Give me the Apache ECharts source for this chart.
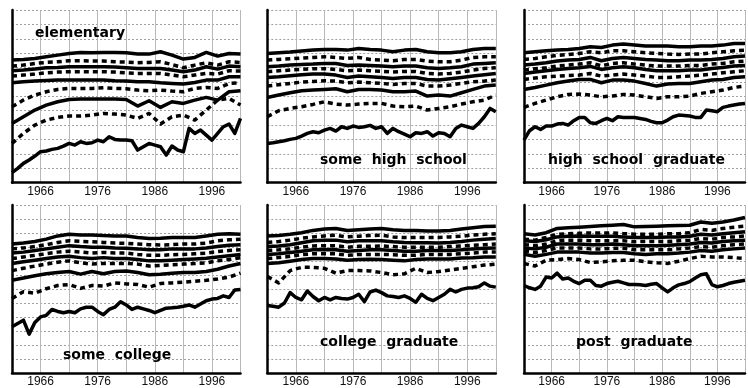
<!DOCTYPE html>
<html>
<head>
<meta charset="utf-8">
<script src="https://cdn.jsdelivr.net/npm/echarts@6/dist/echarts.min.js"></script>
<style>
  html, body { margin: 0; padding: 0; background: #fff; }
  #chart { width: 748px; height: 388px; }
</style>
</head>
<body>
<div id="chart"></div>
<script>
// years: annual for the 10th percentile, every second year for the rest
const yearsAnnual = [1961,1962,1963,1964,1965,1966,1967,1968,1969,1970,1971,1972,1973,1974,1975,1976,1977,1978,1979,1980,
  1981,1982,1983,1984,1985,1986,1987,1988,1989,1990,1991,1992,1993,1994,1995,1996,1997,1998,1999,2000,2001];
const yearsBiennial = [1961,1963,1965,1967,1969,1971,1973,1975,1977,1979,1981,1983,1985,1987,1989,1991,1993,1995,1997,1999,2001];

const xTickLabels = [1966, 1976, 1986, 1996];
const panelTitles = ['elementary', 'some  high  school', 'high  school  graduate', 'some  college', 'college  graduate', 'post  graduate'];

// elementary
const elemP90 = [368,370,373,378,383,388,391,390,391,391,390,386,386,393,383,371,376,391,380,388,386];
const elemP80 = [350,353,358,361,363,366,366,365,365,363,362,360,361,363,355,345,353,360,353,363,361];
const elemP70 = [336,338,341,345,346,348,348,348,348,347,345,343,343,343,338,333,338,348,341,350,348];
const elemP60 = [320,323,326,330,332,333,333,333,333,332,330,328,328,328,323,318,323,328,326,336,335];
const elemP50 = [300,303,305,307,308,308,308,308,308,306,305,303,303,300,298,296,301,308,308,318,318];
const elemP40 = [228,248,263,273,280,283,283,283,285,283,282,278,276,278,275,273,283,286,283,298,300];
const elemP30 = [178,198,218,233,243,250,251,251,251,251,250,230,246,226,243,238,248,256,248,273,276];
const elemP20 = [118,148,173,188,196,200,200,203,208,206,203,193,208,176,198,203,188,218,248,253,233];
const elemP10 = [30,43,58,68,80,93,95,100,103,110,118,113,123,118,120,128,123,138,130,128,128,126,98,108,118,113,108,83,110,98,93,163,148,158,143,128,148,168,176,148,193];

// some high school
const shsP90 = [388,390,392,395,398,400,400,398,403,400,398,393,398,400,393,390,390,393,400,403,403];
const shsP80 = [368,370,372,374,376,378,376,373,376,370,368,366,370,370,365,363,363,368,376,378,378];
const shsP70 = [348,350,353,355,356,358,358,352,353,352,350,348,350,350,345,343,345,348,356,358,360];
const shsP60 = [333,336,338,340,342,342,340,336,338,336,334,332,334,334,328,326,328,332,338,343,345];
const shsP50 = [316,318,321,324,326,326,323,316,320,318,316,313,316,316,310,308,312,316,320,324,328];
const shsP40 = [290,294,298,302,304,306,305,300,302,300,298,295,298,298,290,290,293,298,303,305,308];
const shsP30 = [256,263,270,276,278,280,282,273,280,280,278,273,273,275,260,263,260,270,280,290,293];
const shsP20 = [198,216,223,228,235,243,236,233,236,238,238,230,228,230,218,223,228,236,243,248,263];
const shsP10 = [118,120,123,126,130,133,140,148,153,150,158,163,155,168,163,170,166,168,172,163,168,148,163,153,146,138,150,148,153,140,150,148,138,163,173,168,163,178,198,223,213];

// high school graduate
const hsgP90 = [390,393,396,398,400,403,408,406,413,416,413,410,410,410,408,408,410,410,413,418,418];
const hsgP80 = [370,373,378,382,385,388,393,390,396,396,393,390,388,386,385,386,386,390,393,396,398];
const hsgP70 = [353,356,360,365,368,370,376,366,373,376,373,370,368,366,366,368,368,370,373,378,380];
const hsgP60 = [338,342,345,350,353,356,360,351,358,360,356,353,350,350,350,352,352,356,358,363,365];
const hsgP50 = [328,332,336,340,343,345,349,340,345,348,345,340,336,336,336,338,338,343,346,350,352];
const hsgP40 = [310,314,318,320,322,323,328,320,323,326,323,320,316,316,318,320,323,326,330,333,336];
const hsgP30 = [280,286,293,300,305,310,310,300,308,308,305,298,290,296,298,298,303,308,310,316,318];
const hsgP20 = [226,238,248,258,265,266,263,258,260,265,263,258,253,258,258,260,268,273,278,286,290];
const hsgP10 = [128,156,168,160,170,170,176,178,173,186,196,196,180,178,186,193,186,198,196,196,196,193,190,184,180,180,188,198,203,202,200,196,196,218,216,213,226,230,233,236,238];

// some college
const scP90 = [398,401,406,413,423,428,426,426,424,423,423,418,415,416,418,418,418,423,428,430,428];
const scP80 = [383,386,390,396,403,408,406,405,403,401,400,398,396,395,396,398,398,401,408,411,413];
const scP70 = [370,373,378,383,388,393,390,388,388,386,385,383,380,380,383,383,383,386,390,394,396];
const scP60 = [353,358,363,368,373,376,373,370,372,370,370,366,363,363,365,366,368,370,375,378,380];
const scP50 = [338,343,348,353,358,360,356,353,356,353,353,350,346,346,348,350,352,354,358,362,366];
const scP40 = [316,323,330,336,342,346,340,336,338,338,338,336,330,332,334,336,338,340,346,350,356];
const scP30 = [286,293,300,306,310,313,305,313,306,313,315,310,303,305,308,310,310,313,320,330,338];
const scP20 = [230,251,246,260,270,273,261,270,268,278,275,273,265,276,278,280,283,286,290,296,308];
const scP10 = [143,153,163,120,156,173,178,196,190,186,190,186,198,203,203,190,180,196,203,220,210,196,203,198,193,186,193,200,201,203,206,210,203,213,223,228,230,238,233,256,258];

// college graduate
const cgP90 = [423,424,428,433,440,444,446,440,442,444,446,442,440,440,438,438,440,444,448,452,453];
const cgP80 = [403,406,410,416,420,423,425,420,422,424,425,420,418,418,418,418,420,422,426,428,430];
const cgP70 = [390,392,396,402,408,410,410,405,408,408,408,405,403,402,402,401,403,406,410,413,415];
const cgP60 = [378,380,383,388,392,393,393,388,391,391,392,390,388,388,388,388,390,392,394,396,398];
const cgP50 = [366,368,372,376,380,381,380,376,378,380,380,378,376,376,378,378,378,380,383,385,386];
const cgP40 = [353,356,360,365,368,368,368,363,366,366,366,365,363,363,366,366,366,368,370,373,373];
const cgP30 = [338,340,345,350,353,353,352,348,350,351,350,348,346,350,352,352,352,355,356,358,358];
const cgP20 = [298,278,316,326,326,323,308,316,316,315,310,303,306,323,310,313,318,323,328,333,336];
const cgP10 = [208,206,203,216,248,233,226,253,236,223,233,226,233,230,228,233,243,220,250,256,248,238,236,233,238,230,218,243,230,223,233,243,258,250,258,262,263,266,278,268,265];

// post graduate
const pgP90 = [430,426,433,446,448,450,452,454,456,458,451,452,453,454,455,456,466,462,466,472,480];
const pgP80 = [413,410,418,428,430,431,432,432,432,430,428,428,428,430,430,433,443,440,446,450,453];
const pgP70 = [408,406,411,420,422,423,422,422,422,420,418,418,418,420,420,422,428,426,430,433,436];
const pgP60 = [396,393,398,408,410,410,408,408,408,408,405,406,406,406,408,410,415,413,418,420,423];
const pgP50 = [386,383,388,398,398,398,396,396,398,396,393,393,393,394,396,398,403,401,406,408,410];
const pgP40 = [376,372,378,386,386,386,383,383,385,385,380,380,380,380,383,386,390,388,393,396,398];
const pgP30 = [366,360,366,373,373,373,370,370,372,372,368,366,368,368,370,373,378,376,380,383,386];
const pgP20 = [338,330,348,350,353,350,341,343,346,348,348,343,340,338,345,353,360,358,358,356,353];
const pgP10 = [270,263,258,268,296,293,308,290,293,283,276,286,286,270,268,276,280,283,278,273,273,272,270,274,276,263,250,263,272,276,282,293,303,306,273,266,270,276,280,283,286];

// 面板顺序: 10th ... 90th
const panels = [
  [elemP10, elemP20, elemP30, elemP40, elemP50, elemP60, elemP70, elemP80, elemP90],
  [shsP10, shsP20, shsP30, shsP40, shsP50, shsP60, shsP70, shsP80, shsP90],
  [hsgP10, hsgP20, hsgP30, hsgP40, hsgP50, hsgP60, hsgP70, hsgP80, hsgP90],
  [scP10, scP20, scP30, scP40, scP50, scP60, scP70, scP80, scP90],
  [cgP10, cgP20, cgP30, cgP40, cgP50, cgP60, cgP70, cgP80, cgP90],
  [pgP10, pgP20, pgP30, pgP40, pgP50, pgP60, pgP70, pgP80, pgP90],
];

const colLeft = [12, 267.3, 524];
const rowTop = [10, 205];
const panelW = 228.5;
const panelH = [172.7, 172];
const titlePos = [[35, 26], [320, 153], [548, 153], [63, 348], [320, 335], [576, 335]];

const chart = echarts.init(document.getElementById('chart'), null, { renderer: 'canvas' });

const grids = [], xAxes = [], yAxes = [], series = [], titles = [];

panels.forEach((lines, p) => {
  const row = Math.floor(p / 3), col = p % 3;
  grids.push({ left: colLeft[col], top: rowTop[row], width: panelW, height: panelH[row] });

  xAxes.push({
    gridIndex: p,
    type: 'value',
    min: 1961,
    max: 2001,
    interval: 5,
    axisLine: { lineStyle: { color: '#000', width: 2.5 } },
    axisTick: { show: false },
    axisLabel: {
      margin: 3,
      color: '#111',
      fontFamily: 'Liberation Sans',
      fontSize: 12,
      showMinLabel: true,
      showMaxLabel: true,
      formatter: (v) => (xTickLabels.includes(v) ? String(v) : ''),
    },
    splitLine: { show: true, lineStyle: { color: '#b8b8b8', width: 1 } },
  });

  yAxes.push({
    gridIndex: p,
    type: 'value',
    min: 0,
    max: 518.4,
    interval: 43.2,
    axisLine: { show: true, lineStyle: { color: '#000', width: 2.5 } },
    axisTick: { show: false },
    axisLabel: { show: false },
    splitLine: { show: true, lineStyle: { color: '#a0a0a0', width: 1, type: [2, 2] } },
  });

  lines.forEach((vals, k) => {
    const years = vals.length === yearsAnnual.length ? yearsAnnual : yearsBiennial;
    const dashed = k % 2 === 1;
    series.push({
      type: 'line',
      xAxisIndex: p,
      yAxisIndex: p,
      data: years.map((y, i) => [y, vals[i]]),
      showSymbol: false,
      silent: true,
      clip: true,
      lineStyle: {
        color: '#000',
        width: 3.5,
        type: dashed ? [5, 4] : 'solid',
        cap: 'butt',
        join: 'round',
      },
    });
  });

  titles.push({
    text: panelTitles[p],
    left: titlePos[p][0],
    top: titlePos[p][1],
    padding: 0,
    textStyle: {
      fontFamily: 'DejaVu Sans',
      fontWeight: 'bold',
      fontSize: 14,
      color: '#000',
    },
  });
});

chart.setOption({
  animation: false,
  backgroundColor: '#fff',
  title: titles,
  grid: grids,
  xAxis: xAxes,
  yAxis: yAxes,
  series: series,
});
</script>
</body>
</html>
